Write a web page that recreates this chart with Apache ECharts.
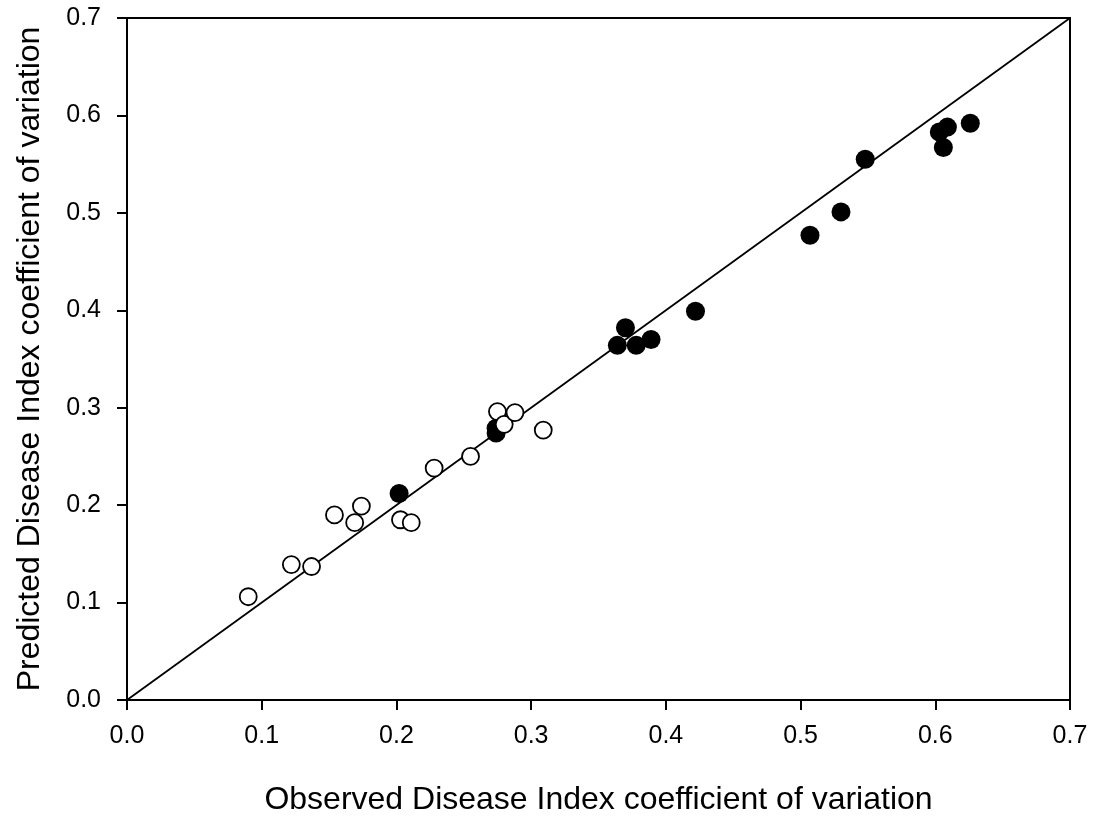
<!DOCTYPE html>
<html>
<head>
<meta charset="utf-8">
<script src="https://cdn.jsdelivr.net/npm/echarts@6/dist/echarts.min.js"></script>
<style>html,body{margin:0;padding:0;background:#fff;}#c{width:1096px;height:819px;}</style>
</head>
<body>
<div id="c"></div>
<script>
// Open circles (observed x, predicted y)
const openX = [0.090, 0.122, 0.137, 0.154, 0.169, 0.174, 0.203, 0.211, 0.228, 0.255, 0.275, 0.280, 0.288, 0.309];
const openY = [0.106, 0.139, 0.137, 0.190, 0.182, 0.199, 0.185, 0.182, 0.238, 0.250, 0.296, 0.283, 0.295, 0.277];
// Filled circles
const filledX = [0.202, 0.274, 0.274, 0.364, 0.370, 0.378, 0.389, 0.422, 0.507, 0.530, 0.548, 0.603, 0.606, 0.609, 0.626];
const filledY = [0.212, 0.279, 0.274, 0.364, 0.382, 0.364, 0.370, 0.399, 0.477, 0.501, 0.555, 0.583, 0.567, 0.588, 0.592];
// 1:1 line
const lineX = [0, 0.7];
const lineY = [0, 0.7];
const xTitle = 'Observed Disease Index coefficient of variation';
const yTitle = 'Predicted Disease Index coefficient of variation';

const zip = (a, b) => a.map((v, i) => [v, b[i]]);
const font = 'Liberation Sans, Arial, sans-serif';
const chart = echarts.init(document.getElementById('c'));
function axis(name, gap, margin) {
  return {
    type: 'value', min: 0, max: 0.7, interval: 0.1,
    splitLine: {show: false},
    axisLine: {show: true, onZero: false, lineStyle: {color: '#000', width: 2}},
    axisTick: {show: true, inside: false, length: 10, lineStyle: {color: '#000', width: 2}},
    axisLabel: {color: '#000', fontSize: 25, fontFamily: font, margin: margin, formatter: v => v.toFixed(1)},
    name: name, nameLocation: 'middle', nameGap: gap,
    nameTextStyle: {color: '#000', fontSize: 32, fontFamily: font}
  };
}
chart.setOption({
  animation: false,
  backgroundColor: '#fff',
  grid: {left: 127, right: 26, top: 18, bottom: 119, outerBoundsMode: 'none', containLabel: false,
         show: true, borderColor: '#000', borderWidth: 2, backgroundColor: 'transparent'},
  xAxis: axis(xTitle, 84, 24),
  yAxis: axis(yTitle, 81, 26),
  series: [
    {type: 'line', data: zip(lineX, lineY), showSymbol: false, symbol: 'none', lineStyle: {color: '#000', width: 1.8}, z: 1},
    {type: 'scatter', data: zip(filledX, filledY), symbol: 'circle', symbolSize: 19, itemStyle: {color: '#000', borderWidth: 0, opacity: 1}, z: 3},
    {type: 'scatter', data: zip(openX, openY), symbol: 'circle', symbolSize: 17, itemStyle: {color: '#fff', borderColor: '#000', borderWidth: 1.8, opacity: 1}, z: 4}
  ]
});
</script>
</body>
</html>
